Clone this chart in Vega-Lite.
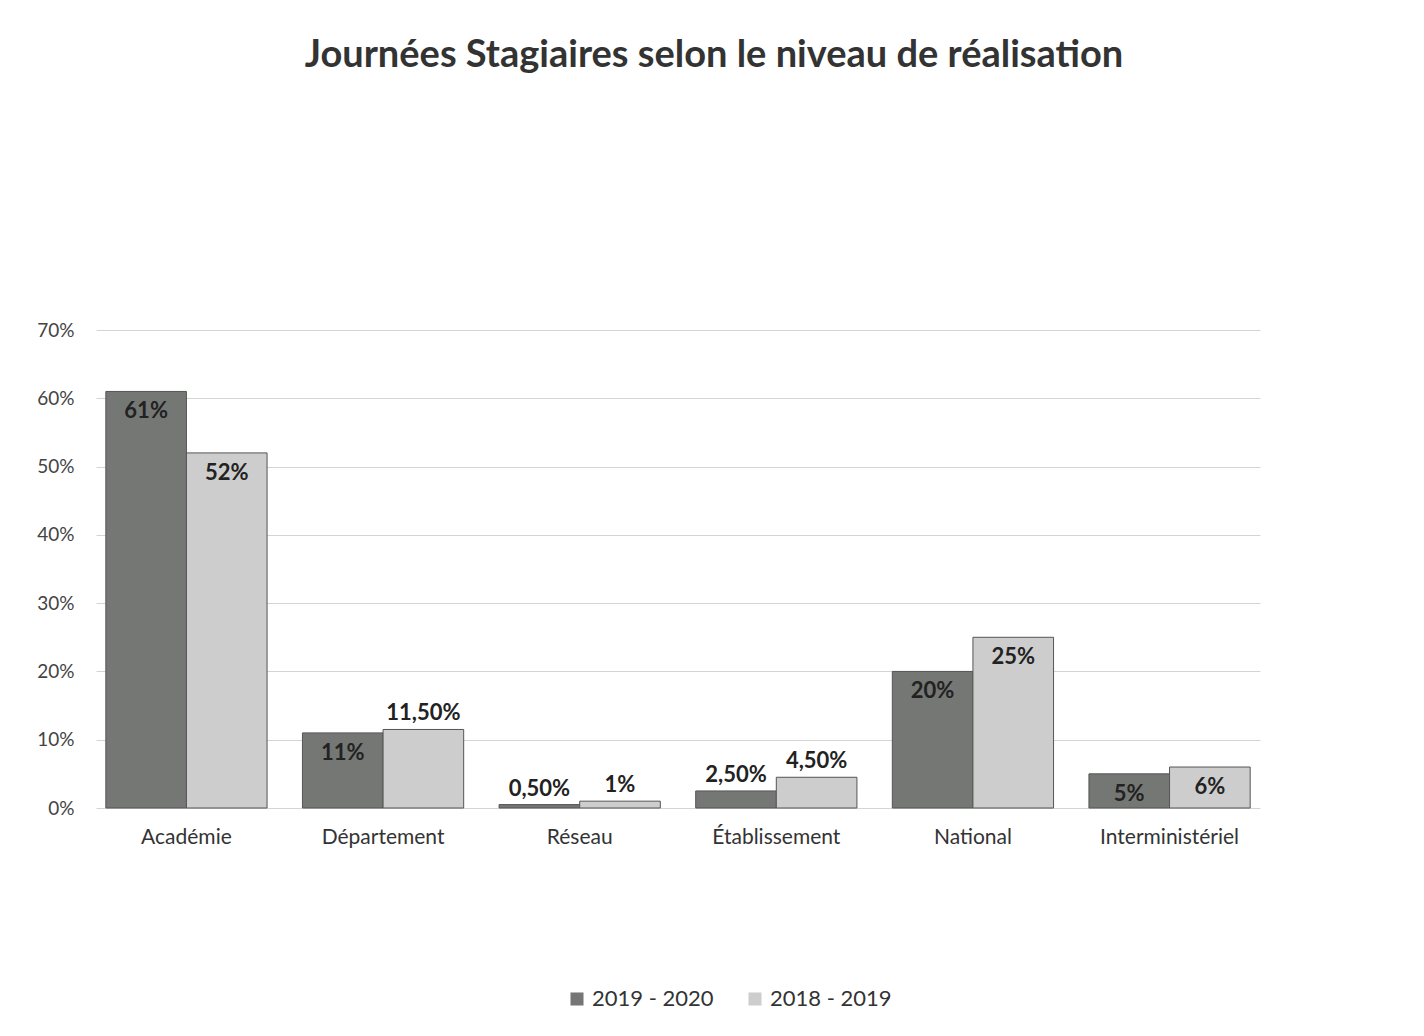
{
  "$schema": "https://vega.github.io/schema/vega-lite/v6.json",
  "autosize": {"type": "none"},
  "width": 1164,
  "height": 478,
  "padding": {"left": 96, "top": 330, "right": 164, "bottom": 228},
  "background": "white",
  "config": {"view": {"stroke": null}},
  "title": {
    "text": "Journées Stagiaires selon le niveau de réalisation",
    "font": "Lato",
    "fontSize": 38,
    "fontWeight": "bold",
    "color": "#333333",
    "anchor": "middle",
    "frame": "group",
    "dx": 36,
    "offset": 246
  },
  "data": {
    "values": [
      {"cat": "Académie", "period": "2019 - 2020", "value": 61, "label": "61%"},
      {"cat": "Académie", "period": "2018 - 2019", "value": 52, "label": "52%"},
      {"cat": "Département", "period": "2019 - 2020", "value": 11, "label": "11%"},
      {"cat": "Département", "period": "2018 - 2019", "value": 11.5, "label": "11,50%"},
      {"cat": "Réseau", "period": "2019 - 2020", "value": 0.5, "label": "0,50%"},
      {"cat": "Réseau", "period": "2018 - 2019", "value": 1, "label": "1%"},
      {"cat": "Établissement", "period": "2019 - 2020", "value": 2.5, "label": "2,50%"},
      {"cat": "Établissement", "period": "2018 - 2019", "value": 4.5, "label": "4,50%"},
      {"cat": "National", "period": "2019 - 2020", "value": 20, "label": "20%"},
      {"cat": "National", "period": "2018 - 2019", "value": 25, "label": "25%"},
      {"cat": "Interministériel", "period": "2019 - 2020", "value": 5, "label": "5%"},
      {"cat": "Interministériel", "period": "2018 - 2019", "value": 6, "label": "6%"}
    ]
  },
  "encoding": {
    "x": {
      "field": "cat",
      "type": "nominal",
      "sort": null,
      "scale": {"paddingInner": 0.18, "paddingOuter": 0.05},
      "axis": {
        "title": null,
        "labelAngle": 0,
        "labelFont": "Lato",
        "labelFontSize": 21,
        "labelColor": "#333333",
        "labelPadding": 18,
        "ticks": false,
        "domain": false
      }
    },
    "xOffset": {"field": "period", "type": "nominal", "sort": ["2019 - 2020", "2018 - 2019"]},
    "y": {
      "field": "value",
      "type": "quantitative",
      "scale": {"domain": [0, 70]},
      "axis": {
        "title": null,
        "values": [0, 10, 20, 30, 40, 50, 60, 70],
        "labelExpr": "datum.value + '%'",
        "labelFont": "Lato",
        "labelFontSize": 19,
        "labelColor": "#444444",
        "labelPadding": 22,
        "ticks": false,
        "domain": false,
        "gridColor": "#d4d4d4",
        "gridWidth": 1
      }
    }
  },
  "layer": [
    {
      "mark": {"type": "bar", "stroke": "#555555", "strokeWidth": 1},
      "encoding": {
        "color": {
          "field": "period",
          "type": "nominal",
          "sort": ["2019 - 2020", "2018 - 2019"],
          "scale": {"domain": ["2019 - 2020", "2018 - 2019"], "range": ["#757775", "#cdcdcd"]},
          "legend": {
            "title": null,
            "orient": "none",
            "legendX": 470,
            "legendY": 658,
            "direction": "horizontal",
            "symbolType": "square",
            "symbolSize": 170,
            "symbolStrokeWidth": 0,
            "labelFont": "Lato",
            "labelFontSize": 22,
            "labelColor": "#333333",
            "columnPadding": 30
          }
        }
      }
    },
    {
      "transform": [{"filter": "datum.value >= 5 && indexof(datum.label, ',') < 0"}],
      "mark": {"type": "text", "baseline": "top", "dy": 10, "font": "Lato", "fontSize": 22, "fontWeight": "bold", "color": "#222222"},
      "encoding": {"text": {"field": "label"}}
    },
    {
      "transform": [{"filter": "datum.value < 5 || indexof(datum.label, ',') >= 0"}],
      "mark": {"type": "text", "baseline": "bottom", "dy": -4, "font": "Lato", "fontSize": 22, "fontWeight": "bold", "color": "#222222"},
      "encoding": {"text": {"field": "label"}}
    }
  ]
}
